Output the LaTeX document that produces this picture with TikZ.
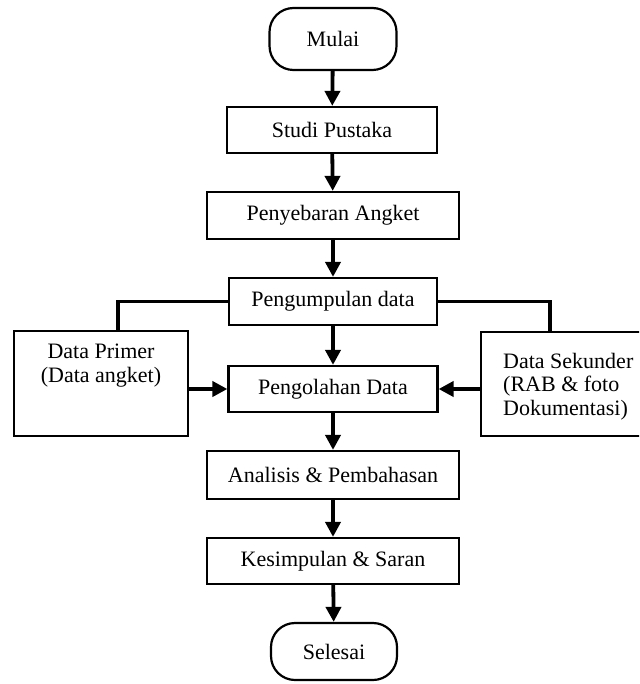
\documentclass[tikz,border=0pt]{standalone}
\usepackage{fontspec}
\setmainfont{Liberation Serif}
\usetikzlibrary{arrows.meta}
\begin{document}
\begin{tikzpicture}[x=1pt,y=-1pt,
  box/.style={draw, line width=2.2pt, rectangle, inner sep=0pt, font=\fontsize{22}{26}\selectfont},
  term/.style={box, rounded corners=24pt},
  txt/.style={inner sep=0pt, font=\fontsize{22}{23.5}\selectfont},
  conn/.style={line width=3.8pt},
  arr/.style={conn, -{Triangle[length=15pt,width=15pt]}}]
\useasboundingbox (0,0) rectangle (639,684);
\clip (0,0) rectangle (639,684);

\node[term, minimum width=127pt, minimum height=62pt] (mulai) at (333,39) {Mulai};
\node[box, minimum width=210pt, minimum height=46pt] (studi) at (332,130) {Studi Pustaka};
\node[box, minimum width=252pt, minimum height=47pt] (sebar) at (333,215.5) {Penyebaran Angket};
\node[box, minimum width=208pt, minimum height=47pt] (kumpul) at (333,301.5) {Pengumpulan data};
\node[box, minimum width=209pt, minimum height=46pt] (olah) at (333,389) {Pengolahan Data};
\node[box, minimum width=252pt, minimum height=48pt] (analisis) at (333,475) {Analisis \& Pembahasan};
\node[box, minimum width=252pt, minimum height=46pt] (simpul) at (333,561) {Kesimpulan \& Saran};
\node[term, minimum width=126pt, minimum height=57pt] (selesai) at (334,651.5) {Selesai};

\node[box, minimum width=174pt, minimum height=105pt] (primer) at (101,383.5) {};
\node[txt, align=center] (primertxt) at (101,365.5) {Data Primer\\(Data angket)};
\node[box, minimum width=169pt, minimum height=104pt] (sekunder) at (565.5,384) {};
\node[txt, align=left, anchor=west] (sekundertxt) at (503,386.5) {Data Sekunder\\(RAB \& foto\\Dokumentasi)};

\draw[arr] (mulai) -- (studi);
\draw[arr] (studi) -- (sebar);
\draw[arr] (sebar) -- (kumpul);
\draw[arr] (kumpul) -- (olah);
\draw[arr] (olah) -- (analisis);
\draw[arr] (analisis) -- (simpul);
\draw[arr] (simpul) -- (selesai);

\draw[conn] (kumpul.west) -| ([xshift=17pt]primer.north);
\draw[conn] (kumpul.east) -| ([xshift=-15.5pt]sekunder.north);
\draw[arr] (primer.east |- olah.west) -- (olah.west);
\draw[arr] (sekunder.west |- olah.east) -- (olah.east);
\end{tikzpicture}
\end{document}
